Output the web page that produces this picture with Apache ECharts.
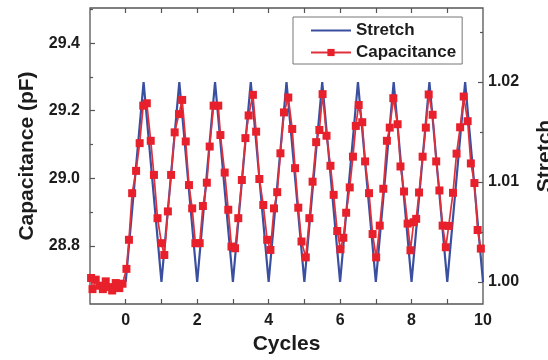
<!DOCTYPE html>
<html>
<head>
<meta charset="utf-8">
<script src="https://cdn.jsdelivr.net/npm/echarts@6/dist/echarts.min.js"></script>
<style>
  html, body { margin: 0; padding: 0; background: #ffffff; }
  #chart { width: 548px; height: 360px; }
</style>
</head>
<body>
<div id="chart"></div>
<script>
// Capacitance samples (cycles, pF)
const capX = [
  -0.97, -0.93, -0.84, -0.74, -0.64, -0.56, -0.46, -0.38, -0.28, -0.18, -0.09,
  0.02, 0.09, 0.18, 0.29, 0.39, 0.49, 0.59, 0.70, 0.79, 0.89,
  1.00, 1.08, 1.18, 1.27, 1.37, 1.49, 1.58, 1.68, 1.77, 1.86, 1.95,
  2.07, 2.16, 2.27, 2.35, 2.46, 2.59, 2.65, 2.77, 2.87, 2.96,
  3.06, 3.15, 3.25, 3.35, 3.44, 3.56, 3.65, 3.74, 3.85, 3.96,
  4.05, 4.15, 4.24, 4.33, 4.43, 4.55, 4.66, 4.74, 4.83, 4.92,
  5.04, 5.14, 5.23, 5.33, 5.42, 5.51, 5.62, 5.73, 5.82, 5.92,
  6.01, 6.09, 6.17, 6.27, 6.36, 6.44, 6.52, 6.62, 6.70, 6.81, 6.91,
  7.01, 7.11, 7.21, 7.31, 7.39, 7.49, 7.61, 7.69, 7.79, 7.89,
  7.97, 8.06, 8.13, 8.21, 8.31, 8.40, 8.48, 8.59, 8.69, 8.78, 8.87,
  8.96, 9.04, 9.16, 9.26, 9.36, 9.46, 9.57, 9.66, 9.76, 9.85, 9.94
];
const capY = [
  28.705, 28.672, 28.700, 28.682, 28.672, 28.695, 28.678, 28.668, 28.690, 28.675, 28.688,
  28.732, 28.818, 28.956, 29.022, 29.104, 29.215, 29.222, 29.111, 29.010, 28.882,
  28.808, 28.773, 28.902, 29.010, 29.136, 29.190, 29.232, 29.109, 28.980, 28.911, 28.808,
  28.808, 28.918, 28.987, 29.094, 29.215, 29.215, 29.128, 29.017, 28.907, 28.798,
  28.793, 28.882, 28.995, 29.119, 29.186, 29.247, 29.138, 28.998, 28.921, 28.818,
  28.788, 28.911, 28.959, 29.074, 29.195, 29.239, 29.146, 29.030, 28.913, 28.813,
  28.766, 28.882, 28.990, 29.107, 29.143, 29.249, 29.126, 29.037, 28.951, 28.844,
  28.790, 28.824, 28.898, 28.973, 29.064, 29.155, 29.217, 29.166, 29.050, 28.956, 28.835,
  28.766, 28.860, 28.969, 29.111, 29.150, 29.237, 29.160, 29.035, 28.961, 28.866,
  28.787, 28.870, 28.880, 28.958, 29.064, 29.150, 29.248, 29.188, 29.050, 28.964, 28.860,
  28.796, 28.859, 28.957, 29.073, 29.151, 29.242, 29.169, 29.044, 28.986, 28.847, 28.792
];

// Applied stretch: vertices of the loading profile (cycles, ratio)
const stretchX = [0, 0.5, 1, 1.5, 2, 2.5, 3, 3.5, 4, 4.5, 5, 5.5, 6, 6.5, 7, 7.5, 8, 8.5, 9, 9.5, 10];
const stretchY = [1.00, 1.02, 1.00, 1.02, 1.00, 1.02, 1.00, 1.02, 1.00, 1.02, 1.00,
                  1.02, 1.00, 1.02, 1.00, 1.02, 1.00, 1.02, 1.00, 1.02, 1.00];

// Tick positions
const xLabelTicks = [0, 2, 4, 6, 8, 10];
const xAllTicks = [0, 1, 2, 3, 4, 5, 6, 7, 8, 9];
const capMajor = [28.8, 29.0, 29.2, 29.4];
const capMinor = [28.7, 28.9, 29.1, 29.3, 29.5];
const strMajor = [1.00, 1.01, 1.02];
const strMinor = [1.005, 1.015, 1.025];

const capData = capX.map((x, i) => [x, capY[i]]);
const stretchData = stretchX.map((x, i) => [x, stretchY[i]]);

const FONT = 'Liberation Sans, Arial, sans-serif';
const TEXT = '#1c1c1c';
const FRAME = '#555555';
const CAP_RANGE = { min: 28.628, max: 29.504 };
const STR_RANGE = { min: 0.9978, max: 1.0274 };

function tick(values, len) {
  return { show: true, inside: true, length: len, customValues: values,
           lineStyle: { color: FRAME, width: 1.2 } };
}
const noLabel = { show: false };
const noLine = { show: false, onZero: false };
const noSplit = { show: false };
const labelStyle = { color: TEXT, fontFamily: FONT, fontWeight: 'bold', fontSize: 16 };
const nameStyle = { color: TEXT, fontFamily: FONT, fontWeight: 'bold', fontSize: 21 };

const chart = echarts.init(document.getElementById('chart'), null, { renderer: 'canvas' });
chart.setOption({
  animation: false,
  backgroundColor: '#ffffff',
  grid: {
    left: 90, right: 65, top: 8, bottom: 56,
    show: true, borderColor: FRAME, borderWidth: 1.3, backgroundColor: 'transparent',
    outerBoundsMode: 'none'
  },
  legend: {
    orient: 'vertical',
    left: 293, top: 17,
    padding: [5, 6, 3, 17],
    itemWidth: 40, itemHeight: 9, itemGap: 5,
    backgroundColor: '#ffffff',
    borderColor: '#777777', borderWidth: 1,
    textStyle: { color: TEXT, fontFamily: FONT, fontWeight: 'bold', fontSize: 17 },
    data: [
      { name: 'Stretch', itemStyle: { opacity: 0 } },
      { name: 'Capacitance' }
    ]
  },
  xAxis: [
    {
      type: 'value', position: 'bottom', min: -1, max: 10,
      name: 'Cycles', nameLocation: 'middle', nameGap: 30, nameTextStyle: nameStyle,
      axisLine: noLine, splitLine: noSplit,
      axisTick: tick(xAllTicks, 5),
      axisLabel: Object.assign({ margin: 9, customValues: xLabelTicks,
                                 formatter: v => String(v) }, labelStyle)
    },
    {
      type: 'value', position: 'top', min: -1, max: 10,
      axisLine: noLine, splitLine: noSplit,
      axisTick: tick(xAllTicks, 5), axisLabel: noLabel
    }
  ],
  yAxis: [
    {
      type: 'value', position: 'left', min: CAP_RANGE.min, max: CAP_RANGE.max,
      name: 'Capacitance (pF)', nameLocation: 'middle', nameGap: 47, nameTextStyle: nameStyle,
      axisLine: noLine, splitLine: noSplit,
      axisTick: tick(capMajor, 5),
      axisLabel: Object.assign({ margin: 10, customValues: capMajor,
                                 formatter: v => v.toFixed(1) }, labelStyle)
    },
    {
      type: 'value', position: 'right', min: STR_RANGE.min, max: STR_RANGE.max,
      name: 'Stretch', nameLocation: 'middle', nameGap: 52, nameTextStyle: nameStyle,
      axisLine: noLine, splitLine: noSplit,
      axisTick: tick(strMajor, 5),
      axisLabel: Object.assign({ margin: 5, customValues: strMajor,
                                 formatter: v => v.toFixed(2) }, labelStyle)
    },
    {
      type: 'value', position: 'left', min: CAP_RANGE.min, max: CAP_RANGE.max,
      axisLine: noLine, splitLine: noSplit,
      axisTick: tick(capMinor, 3), axisLabel: noLabel
    },
    {
      type: 'value', position: 'right', min: STR_RANGE.min, max: STR_RANGE.max,
      axisLine: noLine, splitLine: noSplit,
      axisTick: tick(strMinor, 3), axisLabel: noLabel
    }
  ],
  series: [
    {
      name: 'Stretch', type: 'line', xAxisIndex: 0, yAxisIndex: 1,
      data: stretchData, symbol: 'none', color: '#3a4fa0',
      lineStyle: { color: '#3a4fa0', width: 2.2 }, z: 2
    },
    {
      name: 'Capacitance', type: 'line', xAxisIndex: 0, yAxisIndex: 0,
      data: capData, symbol: 'rect', symbolSize: 8, color: '#e8202c',
      itemStyle: { color: '#e8202c', borderWidth: 0 },
      lineStyle: { color: '#e0303a', width: 1.7 }, z: 3
    }
  ]
});
</script>
</body>
</html>
